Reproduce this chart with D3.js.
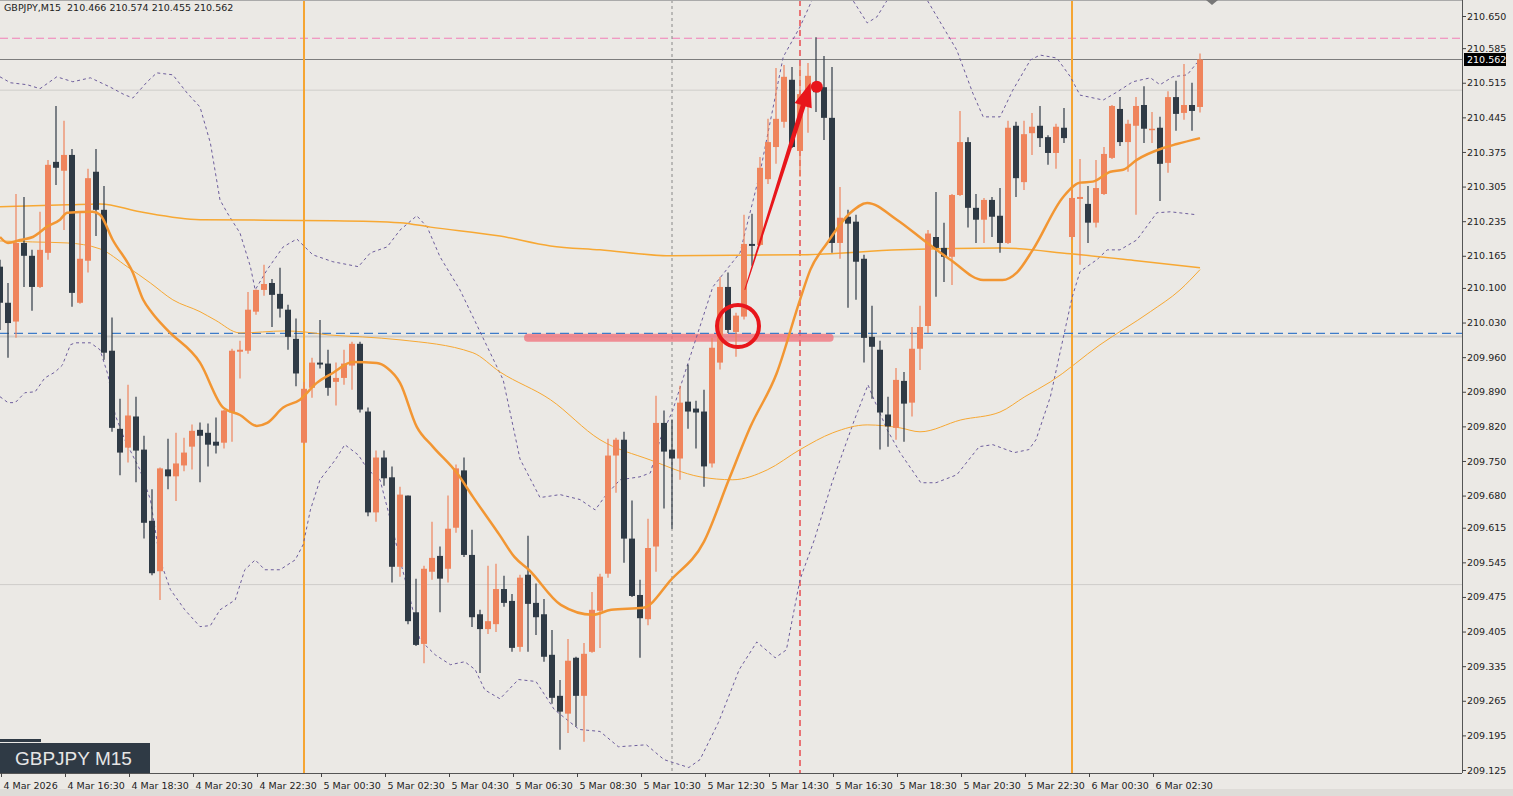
<!DOCTYPE html>
<html><head><meta charset="utf-8">
<script src="https://cdn.jsdelivr.net/npm/d3@7"></script>
<style>body{margin:0;background:#fff;overflow:hidden}svg{display:block}</style>
</head><body><svg id="c" width="1513" height="796"></svg>
<script>
const symbolTitle = "GBPJPY,M15  210.466 210.574 210.455 210.562";
const badgeText = "GBPJPY M15";
const lastPrice = 210.562;
const open = [210.143,210.070,210.032,210.191,210.165,210.102,210.171,210.355,210.337,210.369,210.070,210.155,210.335,210.258,209.973,209.815,209.777,209.840,209.773,209.629,209.527,209.733,209.719,209.741,209.779,209.813,209.807,209.789,209.787,209.848,209.971,209.973,210.052,210.096,210.110,210.088,210.056,209.997,209.787,209.898,209.949,209.947,209.910,209.918,209.943,209.987,209.850,209.646,209.757,209.717,209.536,209.680,209.444,209.380,209.526,209.558,209.532,209.615,209.731,209.560,209.440,209.410,209.420,209.491,209.467,209.374,209.520,209.463,209.440,209.358,209.275,209.239,209.352,209.275,209.364,209.447,209.522,209.761,209.793,209.593,209.479,209.430,209.577,209.827,209.773,209.755,209.870,209.856,209.850,209.745,209.949,210.102,210.011,210.042,210.189,210.187,210.320,210.385,210.436,210.521,210.377,210.492,210.515,210.506,210.444,210.191,210.244,210.234,210.159,210.001,209.975,209.844,209.817,209.912,209.868,209.977,210.023,210.203,210.181,210.163,210.288,210.395,210.262,210.238,210.278,210.246,210.191,210.428,210.314,210.413,210.428,210.405,210.373,210.424,210.203,210.280,210.270,210.232,210.290,210.363,210.462,210.395,210.428,210.470,210.420,210.424,210.353,210.486,210.454,210.470,210.466];
const high = [210.157,210.110,210.290,210.284,210.177,210.254,210.359,210.468,210.438,210.381,210.252,210.341,210.381,210.306,210.040,209.876,209.904,209.880,209.801,209.693,209.737,209.795,209.807,209.797,209.824,209.828,209.826,209.838,209.853,209.977,209.993,210.092,210.097,210.147,210.118,210.141,210.066,210.038,209.910,209.959,210.035,209.975,209.949,209.975,209.991,209.991,209.858,209.771,209.771,209.739,209.698,209.680,209.512,209.538,209.627,209.577,209.680,209.743,209.757,209.611,209.449,209.538,209.542,209.518,209.481,209.520,209.599,209.502,209.471,209.408,209.307,209.390,209.354,209.382,209.485,209.522,209.795,209.797,209.809,209.670,209.510,209.633,209.882,209.852,209.834,209.902,209.945,209.872,209.894,209.999,210.122,210.131,210.050,210.248,210.250,210.365,210.442,210.545,210.551,210.547,210.551,210.555,210.607,210.569,210.547,210.304,210.258,210.248,210.167,210.064,209.993,209.880,209.938,209.930,210.021,210.064,210.217,210.294,210.232,210.290,210.458,210.405,210.290,210.282,210.284,210.302,210.438,210.436,210.438,210.454,210.468,210.409,210.432,210.464,210.298,210.361,210.306,210.359,210.385,210.470,210.486,210.440,210.486,210.508,210.456,210.446,210.498,210.519,210.553,210.515,210.574];
const low = [210.015,209.959,209.999,210.102,210.054,210.100,210.157,210.308,210.217,210.062,210.068,210.131,210.205,209.955,209.809,209.721,209.747,209.707,209.593,209.519,209.469,209.693,209.669,209.729,209.733,209.707,209.739,209.765,209.775,209.789,209.917,209.967,210.046,210.084,210.021,210.040,209.975,209.901,209.785,209.878,209.937,209.882,209.862,209.904,209.894,209.848,209.638,209.627,209.700,209.504,209.516,209.420,209.376,209.341,209.510,209.444,209.504,209.605,209.556,209.414,209.321,209.400,209.404,209.455,209.364,209.364,209.364,209.398,209.344,209.259,209.166,209.200,209.213,209.182,209.362,209.372,209.514,209.686,209.544,209.475,209.352,209.418,209.526,209.654,209.613,209.712,209.815,209.775,209.698,209.737,209.935,210.009,209.961,210.036,210.145,210.185,210.310,210.351,210.424,210.383,210.325,210.414,210.456,210.399,210.171,210.159,210.060,210.076,209.949,209.876,209.773,209.779,209.793,209.789,209.840,209.934,210.009,210.082,210.112,210.106,210.286,210.222,210.191,210.191,210.203,210.171,210.189,210.284,210.298,210.369,210.385,210.349,210.341,210.393,210.197,210.147,210.191,210.222,210.288,210.361,210.387,210.335,210.248,210.393,210.393,210.276,210.333,210.418,210.440,210.418,210.455];
const close = [210.070,210.029,210.191,210.165,210.102,210.177,210.349,210.343,210.369,210.090,210.159,210.322,210.258,209.969,209.817,209.767,209.842,209.771,209.625,209.523,209.735,209.719,209.745,209.767,209.811,209.801,209.783,209.781,209.852,209.973,209.975,210.056,210.096,210.108,210.086,210.058,210.001,209.927,209.896,209.949,209.945,209.898,209.918,209.947,209.987,209.854,209.646,209.757,209.715,209.536,209.682,209.426,209.378,209.532,209.554,209.512,209.613,209.735,209.560,209.434,209.410,209.426,209.491,209.463,209.372,209.514,209.461,209.434,209.354,209.271,209.243,209.346,209.275,209.360,209.449,209.516,209.761,209.793,209.593,209.477,209.432,209.574,209.827,209.769,209.755,209.868,209.850,209.848,209.739,209.979,210.102,210.015,210.044,210.189,210.185,210.343,210.395,210.442,210.527,210.385,210.492,210.529,210.496,210.444,210.191,210.242,210.230,210.153,209.999,209.981,209.848,209.820,209.914,209.866,209.977,210.021,210.210,210.181,210.163,210.288,210.395,210.262,210.238,210.278,210.244,210.191,210.424,210.322,210.411,210.426,210.403,210.373,210.426,210.403,210.282,210.284,210.232,210.302,210.371,210.468,210.395,210.432,210.468,210.422,210.422,210.351,210.486,210.452,210.470,210.458,210.562];

// indicator readings [bar, price]
const maFast = [[0,210.203],[1,210.191],[2.5,210.197],[4.1,210.203],[5.9,210.224],[7.5,210.238],[8.4,210.252],[11.6,210.254],[12.5,210.248],[14.1,210.197],[16.6,210.131],[17.9,210.076],[19,210.050],[20.9,210.015],[25,209.949],[27.9,209.858],[30,209.843],[32.1,209.821],[33.4,209.827],[35.4,209.858],[37.5,209.874],[39.6,209.908],[41.6,209.928],[44.1,209.950],[47.1,209.948],[48.4,209.938],[50,209.908],[52.1,209.819],[54.1,209.779],[57.1,209.726],[59.1,209.678],[62.5,209.599],[64.3,209.556],[66.1,209.530],[70.1,209.459],[74.1,209.439],[76.4,209.449],[80.4,209.453],[83.9,209.510],[88,209.587],[91.1,209.712],[93.8,209.819],[97.1,209.928],[100,210.076],[101.3,210.137],[103.4,210.191],[106.3,210.252],[108.4,210.272],[112.1,210.238],[115.9,210.191],[118.8,210.157],[122.9,210.116],[125.3,210.116],[127.1,210.131],[129.1,210.177],[132.9,210.284],[135,210.313],[136.6,210.315],[138.8,210.335],[140.4,210.339],[142.1,210.359],[145.4,210.383],[147.1,210.391],[150,210.403]];
const maMid = [[0,210.195],[4.1,210.193],[8.4,210.191],[12.5,210.179],[15.9,210.143],[18.8,210.110],[21.6,210.076],[25,210.052],[26.9,210.035],[30,210.009],[35.6,210.013],[38.1,210.011],[41,210.005],[45.3,210.001],[50,209.995],[59.1,209.969],[62.5,209.930],[68.8,209.874],[75,209.793],[81.3,209.752],[87.5,209.718],[91.6,209.712],[95.9,209.732],[100,209.773],[104.1,209.807],[108.4,209.823],[112.5,209.817],[115,209.809],[120.1,209.833],[125,209.849],[128.1,209.880],[131.3,209.910],[137.5,209.985],[143.8,210.052],[147.5,210.096],[150,210.137]];
const maSlow = [[0,210.264],[8.4,210.268],[12.5,210.270],[17.5,210.254],[25,210.238],[41.6,210.236],[50,210.232],[53.8,210.223],[62.5,210.205],[68.8,210.185],[75,210.177],[83.8,210.165],[100,210.167],[112.5,210.177],[125,210.181],[133.8,210.169],[142.1,210.155],[150,210.141]];
const bbUpper = [[0,210.527],[1.3,210.515],[3.4,210.511],[5,210.503],[7.1,210.527],[9.1,210.517],[11.3,210.525],[13.8,210.506],[15.4,210.492],[16.6,210.484],[18.4,210.517],[19.6,210.535],[21.6,210.531],[23.4,210.494],[25,210.466],[26.3,210.393],[27.5,210.278],[28.4,210.252],[30,210.211],[31.3,210.143],[31.9,210.096],[33.4,210.137],[35.4,210.183],[37.1,210.199],[39.1,210.167],[41.6,210.153],[44.8,210.143],[46.3,210.171],[48.4,210.183],[50,210.217],[52.1,210.246],[53.4,210.223],[55,210.163],[57.5,210.096],[62.9,209.914],[65,209.754],[67.5,209.676],[70,209.682],[72.5,209.672],[74.4,209.651],[75.6,209.678],[77.5,209.712],[80,209.718],[81.3,209.726],[82.5,209.793],[84.1,209.853],[89.1,210.102],[92.5,210.171],[95,210.333],[97.9,210.567],[100,210.628],[101.5,210.682],[103.8,210.723],[106.6,210.682],[108.4,210.636],[109.6,210.648],[110.9,210.682],[113.1,210.713],[115.9,210.682],[119.6,210.581],[121.6,210.494],[122.9,210.446],[125,210.446],[126.6,210.500],[128.8,210.561],[130,210.571],[132.1,210.565],[133.8,210.527],[135,210.490],[137.9,210.480],[139.6,210.496],[141.6,210.517],[143.8,210.525],[145,210.511],[146.6,210.527],[148.4,210.531],[149.6,210.555],[150,210.561]];
const bbLower = [[0,209.880],[1,209.868],[1.9,209.868],[3.1,209.888],[4.4,209.890],[5.6,209.918],[6.9,209.930],[7.8,209.944],[8.8,209.985],[9.4,209.989],[11.3,209.989],[12.5,209.975],[13.5,209.924],[14.4,209.843],[15.6,209.793],[17.5,209.732],[18.8,209.672],[20,209.550],[21.3,209.490],[23.1,209.449],[25,209.415],[26.3,209.417],[27.5,209.449],[29.4,209.469],[30.6,209.530],[31.9,209.550],[33.1,209.530],[35,209.530],[36.9,209.550],[37.9,209.581],[38.8,209.651],[40,209.712],[41.9,209.752],[43.1,209.783],[44.8,209.762],[46,209.732],[47.5,209.712],[48.8,209.631],[50,209.550],[51.3,209.469],[52.5,209.388],[54.4,209.358],[56.3,209.338],[58.1,209.344],[59.4,209.328],[60.6,209.287],[62.5,209.269],[64.8,209.308],[67,209.304],[69.3,209.247],[72.4,209.207],[75,209.203],[77.3,209.172],[80.8,209.176],[83,209.146],[86.1,209.130],[87.5,209.146],[89.8,209.221],[92.4,209.328],[94.6,209.384],[96.9,209.352],[98.3,209.368],[100,209.510],[101.8,209.591],[104,209.706],[106.8,209.833],[108.5,209.904],[109.1,209.880],[110.9,209.813],[112.5,209.767],[115.1,209.706],[117,209.706],[119.6,209.722],[122.4,209.779],[124.1,209.783],[126.8,209.767],[128.6,209.773],[129.5,209.793],[131.3,209.880],[134,210.080],[135,210.133],[137.1,210.157],[138.4,210.177],[140,210.177],[142.1,210.197],[144.6,210.252],[146.3,210.254],[149.6,210.248]];

const priceTicks = [210.650,210.585,210.515,210.445,210.375,210.305,210.235,210.165,210.100,210.030,209.960,209.890,209.820,209.750,209.680,209.615,209.545,209.475,209.405,209.335,209.265,209.195,209.125];
const timeTickBars = [0,8,16,24,32,40,48,56,64,72,80,88,96,104,112,120,128,136,144];
const timeTickLabels = ["4 Mar 2026","4 Mar 16:30","4 Mar 18:30","4 Mar 20:30","4 Mar 22:30","5 Mar 00:30","5 Mar 02:30","5 Mar 04:30","5 Mar 06:30","5 Mar 08:30","5 Mar 10:30","5 Mar 12:30","5 Mar 14:30","5 Mar 16:30","5 Mar 18:30","5 Mar 20:30","5 Mar 22:30","6 Mar 00:30","6 Mar 02:30"];
const dayBreakBars = [38,134];
const levelPink = 210.605, levelBlue = 210.008, levelGrey = 210.002, roundLevels = [210.500,209.500];
const markGreyBar = 84, markRedBar = 100;
const zoneBars = [66,103.7], zonePrice = 209.999;
const circleAt = [92.25,210.023];
const arrowFrom = [93.1,210.096], arrowTo = [101.3,210.515];
const dotAt = [102.1,210.507];

const W = 1462, H = 773;
const svg = d3.select("#c");
svg.append("rect").attr("width",1513).attr("height",796).attr("fill","#ebe9e5");
const x = d3.scaleLinear().domain([0,150]).range([0,1200]);
const y = d3.scaleLinear().domain([209.125,210.650]).range([770,16]);
svg.append("defs").append("clipPath").attr("id","pc").append("rect").attr("width",W).attr("height",H);
const g = svg.append("g").attr("clip-path","url(#pc)");

roundLevels.forEach(p=>g.append("line").attr("x1",0).attr("x2",W).attr("y1",y(p)).attr("y2",y(p)).attr("stroke","#cfcdca").attr("stroke-width",1));
g.append("line").attr("x1",0).attr("x2",W).attr("y1",y(levelGrey)).attr("y2",y(levelGrey)).attr("stroke","#cfcdca").attr("stroke-width",2);
g.append("line").attr("x1",0).attr("x2",W).attr("y1",y(levelPink)).attr("y2",y(levelPink)).attr("stroke","#f27fb8").attr("stroke-dasharray","8,4");
g.append("line").attr("x1",0).attr("x2",W).attr("y1",y(lastPrice)).attr("y2",y(lastPrice)).attr("stroke","#7d7d7d");
dayBreakBars.forEach(b=>g.append("line").attr("x1",x(b)).attr("x2",x(b)).attr("y1",0).attr("y2",H).attr("stroke","#f5a533").attr("stroke-width",2));
g.append("line").attr("x1",x(markGreyBar)).attr("x2",x(markGreyBar)).attr("y1",0).attr("y2",H).attr("stroke","#888").attr("stroke-dasharray","3,3");
g.append("line").attr("x1",x(markRedBar)).attr("x2",x(markRedBar)).attr("y1",0).attr("y2",H).attr("stroke","#e8262a").attr("stroke-width",1.2).attr("stroke-dasharray","6,4");
g.append("line").attr("x1",x(zoneBars[0])).attr("x2",x(zoneBars[1])).attr("y1",y(zonePrice)).attr("y2",y(zonePrice)).attr("stroke","rgba(240,110,120,0.75)").attr("stroke-width",8).attr("stroke-linecap","round");
g.append("line").attr("x1",0).attr("x2",W).attr("y1",y(levelBlue)).attr("y2",y(levelBlue)).attr("stroke","#3d7cc9").attr("stroke-width",1.2).attr("stroke-dasharray","9,5");

const lineGen = d3.line().x(d=>x(d[0])).y(d=>y(d[1]));
[bbUpper,bbLower].forEach(a=>g.append("path").attr("d",lineGen(a)).attr("fill","none").attr("stroke","#6d5d9c").attr("stroke-width",1).attr("stroke-dasharray","3,3"));
const smooth = d3.line().x(d=>x(d[0])).y(d=>y(d[1])).curve(d3.curveMonotoneX);
g.append("path").attr("d",smooth(maSlow)).attr("fill","none").attr("stroke","#f7a833").attr("stroke-width",1.5);
g.append("path").attr("d",smooth(maMid)).attr("fill","none").attr("stroke","#f7a833").attr("stroke-width",1);

const bull="#ef845c", bear="#2f3a45";
const idx = d3.range(open.length);
g.selectAll(".wick").data(idx).join("line").attr("x1",i=>x(i)).attr("x2",i=>x(i)).attr("y1",i=>y(high[i])).attr("y2",i=>y(low[i])).attr("stroke",i=>close[i]>=open[i]?bull:bear).attr("stroke-width",1.2);
g.selectAll(".body").data(idx).join("rect").attr("x",i=>x(i)-3).attr("width",6).attr("y",i=>y(Math.max(open[i],close[i]))).attr("height",i=>Math.max(1.5,Math.abs(y(open[i])-y(close[i])))).attr("fill",i=>close[i]>=open[i]?bull:bear);

g.append("path").attr("d",smooth(maFast)).attr("fill","none").attr("stroke","#f29633").attr("stroke-width",2.5);

// annotations
g.append("circle").attr("cx",x(circleAt[0])).attr("cy",y(circleAt[1])).attr("r",21).attr("fill","none").attr("stroke","#e8161b").attr("stroke-width",4);
const ax1=x(arrowFrom[0]), ay1=y(arrowFrom[1]), ax2=x(arrowTo[0]), ay2=y(arrowTo[1]);
const ang=Math.atan2(ay2-ay1,ax2-ax1), L=24, hw=9;
const s=Math.sin(ang), c=Math.cos(ang);
const bx=ax2-L*c, by=ay2-L*s;
g.append("path").attr("d",`M${ax1+0.5*s},${ay1-0.5*c} L${bx+2.5*s},${by-2.5*c} L${bx+hw*s},${by-hw*c} L${ax2},${ay2} L${bx-hw*s},${by+hw*c} L${bx-2.5*s},${by+2.5*c} L${ax1-0.5*s},${ay1+0.5*c} Z`).attr("fill","#e8161b");
g.append("circle").attr("cx",x(dotAt[0])).attr("cy",y(dotAt[1])).attr("r",6).attr("fill","#e8161b");

svg.append("line").attr("x1",W+0.5).attr("x2",W+0.5).attr("y1",0).attr("y2",H).attr("stroke","#555");
svg.append("line").attr("x1",0).attr("x2",W).attr("y1",H+0.5).attr("y2",H+0.5).attr("stroke","#555");
svg.append("line").attr("x1",0).attr("x2",W).attr("y1",0.5).attr("y2",0.5).attr("stroke","#aaa");
svg.append("rect").attr("x",0).attr("y",789).attr("width",1513).attr("height",7).attr("fill","#dedcd8");
const ya = svg.append("g").attr("transform",`translate(${W},0)`).call(d3.axisRight(y).tickValues(priceTicks).tickSize(4).tickFormat(d3.format(".3f")));
ya.select(".domain").remove();
ya.selectAll("text").attr("font-family","DejaVu Sans").attr("font-size",9.5).attr("fill","#222").attr("x",5);
ya.selectAll("line").attr("stroke","#444");
const xa = svg.append("g").attr("transform",`translate(1,${H})`).call(d3.axisBottom(x).tickValues(timeTickBars).tickSize(4).tickFormat((d,i)=>timeTickLabels[i]));
xa.select(".domain").remove();
xa.selectAll("line").attr("stroke","#444");
xa.selectAll("text").attr("font-family","DejaVu Sans").attr("font-size",9.5).attr("fill","#222").attr("text-anchor","start").attr("x",2).attr("dy","0.9em");
svg.append("rect").attr("x",W+2).attr("y",y(lastPrice)-6.5).attr("width",42).attr("height",13).attr("fill","#000");
svg.append("text").attr("x",W+5).attr("y",y(lastPrice)+3.5).text(d3.format(".3f")(lastPrice)).attr("font-family","DejaVu Sans").attr("font-size",9.5).attr("fill","#fff");
svg.append("path").attr("d","M1206,0 L1218,0 L1212,5 Z").attr("fill","#777");
svg.append("text").attr("x",4).attr("y",11).text(symbolTitle).attr("font-family","DejaVu Sans").attr("font-size",9.5).attr("fill","#222").style("white-space","pre");
svg.append("rect").attr("x",0).attr("y",739).attr("width",41).attr("height",3).attr("fill","#2f3a45");
svg.append("rect").attr("x",0).attr("y",743).attr("width",150).attr("height",30).attr("fill","#2f3a45");
svg.append("text").attr("x",15).attr("y",765).text(badgeText).attr("font-family","Liberation Sans, Arial").attr("font-size",19).attr("fill","#e6e6e6");
</script></body></html>
